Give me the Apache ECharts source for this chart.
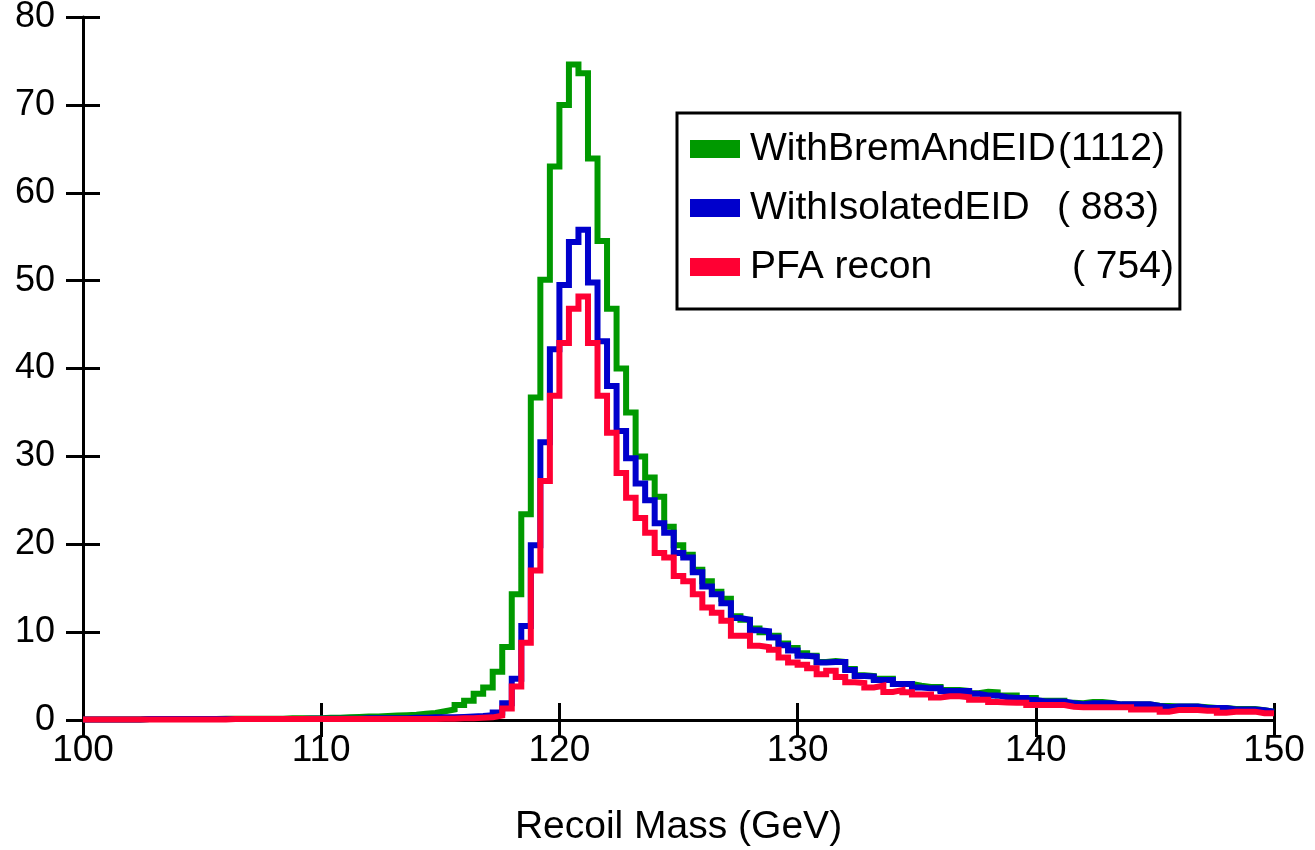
<!DOCTYPE html>
<html><head><meta charset="utf-8">
<script src="https://cdn.jsdelivr.net/npm/echarts@6/dist/echarts.min.js"></script>
<style>html,body{margin:0;padding:0;background:#fff}#c{width:1315px;height:850px}</style>
</head><body><div id="c"></div>
<script>
// Histogram: 125 bins of 0.4 GeV from 100 to 150
const xMin = 100, xMax = 150, binWidth = 0.4;
const yMin = 0, yMax = 80;
const xInterval = 10, yInterval = 10;
const xTitle = 'Recoil Mass (GeV)';
const seriesNames = ['WithBremAndEID', 'WithIsolatedEID', 'PFA recon'];
const seriesCounts = ['(1112)', '( 883)', '( 754)'];
const seriesColors = ['#009900', '#0000cc', '#ff0033'];

const green = [
  0.05,0.05,0.05,0.05,0.05,0.05,0.1,0.1,0.1,0.1,
  0.1,0.1,0.1,0.1,0.15,0.15,0.15,0.15,0.15,0.15,
  0.15,0.2,0.2,0.2,0.2,0.25,0.25,0.3,0.35,0.4,
  0.4,0.45,0.5,0.55,0.6,0.7,0.8,1.0,1.2,1.7,
  2.2,3.0,3.7,5.5,8.3,14.3,23.4,36.7,50.1,63.0,
  70.0,74.6,73.6,63.9,54.5,46.8,40.0,35.0,30.0,27.6,
  25.4,22.0,19.9,18.8,17.1,15.8,14.6,13.8,11.8,11.4,
  10.4,10.0,9.6,8.7,8.2,7.6,7.3,6.6,6.7,6.6,
  5.8,5.1,5.0,4.7,4.7,4.1,4.1,3.9,3.75,3.75,
  3.4,3.4,3.3,3.05,3.2,3.15,2.8,2.8,2.5,2.5,
  2.2,2.2,2.2,1.95,1.9,2.05,2.05,1.95,1.75,1.75,
  1.75,1.75,1.63,1.6,1.55,1.55,1.55,1.45,1.36,1.36,
  1.25,1.25,1.25,1.1,0.95
];
const blue = [
  0.05,0.05,0.05,0.05,0.05,0.05,0.1,0.1,0.1,0.1,
  0.1,0.1,0.1,0.1,0.1,0.1,0.1,0.1,0.1,0.1,
  0.1,0.1,0.1,0.15,0.15,0.15,0.15,0.15,0.15,0.2,
  0.2,0.2,0.2,0.2,0.25,0.25,0.3,0.3,0.3,0.35,
  0.4,0.45,0.55,0.85,1.9,4.7,10.7,19.9,31.6,42.2,
  49.5,54.4,55.8,49.8,43.1,38.0,32.9,29.8,26.9,25.0,
  22.4,21.3,19.0,18.5,16.8,15.2,14.3,13.3,11.6,11.4,
  10.2,10.1,9.4,8.5,7.9,7.3,7.2,6.55,6.6,6.6,
  5.7,5.0,4.95,4.55,4.55,4.1,4.1,3.7,3.6,3.6,
  3.3,3.3,3.3,3.0,2.8,2.8,2.6,2.5,2.5,2.27,
  2.1,2.1,2.1,1.9,1.8,1.9,1.9,1.9,1.78,1.78,
  1.78,1.78,1.6,1.45,1.55,1.55,1.55,1.36,1.36,1.36,
  1.2,1.2,1.2,1.1,0.95
];
const red = [
  0.05,0.05,0.05,0.05,0.05,0.05,0.05,0.05,0.05,0.05,
  0.05,0.05,0.05,0.05,0.05,0.1,0.1,0.1,0.1,0.1,
  0.1,0.1,0.1,0.1,0.1,0.1,0.1,0.1,0.1,0.1,
  0.1,0.1,0.1,0.1,0.1,0.1,0.1,0.15,0.15,0.2,
  0.2,0.25,0.3,0.5,1.3,3.8,8.8,17.0,27.2,36.9,
  42.9,46.8,48.2,42.9,36.9,32.7,28.1,25.3,23.0,21.3,
  19.0,18.5,16.4,15.8,14.3,12.8,12.2,11.3,9.6,9.6,
  8.45,8.3,8.0,7.1,6.55,6.3,5.9,5.2,5.6,4.9,
  4.3,4.2,3.7,3.9,3.2,3.4,3.15,2.9,2.9,2.55,
  2.7,2.7,2.6,2.3,2.3,2.05,2.0,1.97,1.97,1.7,
  1.7,1.7,1.7,1.5,1.44,1.44,1.45,1.45,1.45,1.45,
  1.2,1.2,1.2,0.95,1.14,1.14,1.14,1.06,1.06,0.83,
  0.95,0.95,0.95,0.76,0.76
];
const seriesValues = [green, blue, red];

function histPoints(vals) {
  const pts = vals.map((v, i) => [+(xMin + i * binWidth).toFixed(2), v]);
  pts.push([xMax, vals[vals.length - 1]]);
  return pts;
}

const FONT = 'Liberation Sans';
const chart = echarts.init(document.getElementById('c'), null, {renderer: 'canvas'});

const nameWidths = [308, 307, 322];
const rich = {c: {fontSize: 39, fontFamily: FONT, color: '#000'}};
nameWidths.forEach((w, i) => { rich['n' + i] = {width: w, fontSize: 39, fontFamily: FONT, color: '#000'}; });

const axisCommonX = {type: 'value', min: xMin, max: xMax, interval: xInterval, position: 'bottom', splitLine: {show: false}};
const axisCommonY = {type: 'value', min: yMin, max: yMax, interval: yInterval, position: 'left', splitLine: {show: false}};

chart.setOption({
  animation: false,
  backgroundColor: '#fff',
  grid: {left: 83, right: 41, top: 17, bottom: 130, containLabel: false, outerBoundsMode: 'none'},
  legend: {
    orient: 'vertical', left: 677, top: 113,
    data: seriesNames,
    icon: 'rect', itemWidth: 50, itemHeight: 18, itemGap: 19,
    itemStyle: {borderWidth: 0},
    borderColor: '#000', borderWidth: 3, borderRadius: 0,
    padding: [16, 6, 22, 13],
    textStyle: {fontFamily: FONT, fontSize: 39, color: '#000', lineHeight: 40, padding: [0, 0, 0, 5], rich: rich},
    formatter: function (name) {
      const i = seriesNames.indexOf(name);
      return '{n' + i + '|' + name + '}{c|' + seriesCounts[i] + '}';
    }
  },
  xAxis: [
    Object.assign({}, axisCommonX, {
      name: xTitle, nameLocation: 'middle', nameGap: 88,
      nameTextStyle: {fontFamily: FONT, fontSize: 39, color: '#000'},
      axisLine: {show: true, lineStyle: {color: '#000', width: 3}},
      axisTick: {show: true, inside: false, length: 17, lineStyle: {color: '#000', width: 3}},
      axisLabel: {show: true, margin: 12, fontFamily: FONT, fontSize: 37, color: '#000'}
    }),
    Object.assign({}, axisCommonX, {
      axisLine: {show: false},
      axisTick: {show: true, inside: true, length: 17, lineStyle: {color: '#000', width: 3}},
      axisLabel: {show: false}
    })
  ],
  yAxis: [
    Object.assign({}, axisCommonY, {
      axisLine: {show: true, lineStyle: {color: '#000', width: 3}},
      axisTick: {show: true, inside: false, length: 17, lineStyle: {color: '#000', width: 3}},
      axisLabel: {show: true, margin: 28, fontFamily: FONT, fontSize: 36, color: '#000'}
    }),
    Object.assign({}, axisCommonY, {
      axisLine: {show: false},
      axisTick: {show: true, inside: true, length: 17, lineStyle: {color: '#000', width: 3}},
      axisLabel: {show: false}
    })
  ],
  series: seriesValues.map((vals, i) => ({
    name: seriesNames[i],
    type: 'line',
    xAxisIndex: 0, yAxisIndex: 0,
    step: 'end',
    data: histPoints(vals),
    showSymbol: false, symbol: 'none',
    clip: false,
    color: seriesColors[i],
    itemStyle: {color: seriesColors[i], borderWidth: 0},
    lineStyle: {color: seriesColors[i], width: 6, join: 'miter', cap: 'butt'},
    emphasis: {disabled: true},
    z: 2 + i
  }))
});
</script></body></html>
